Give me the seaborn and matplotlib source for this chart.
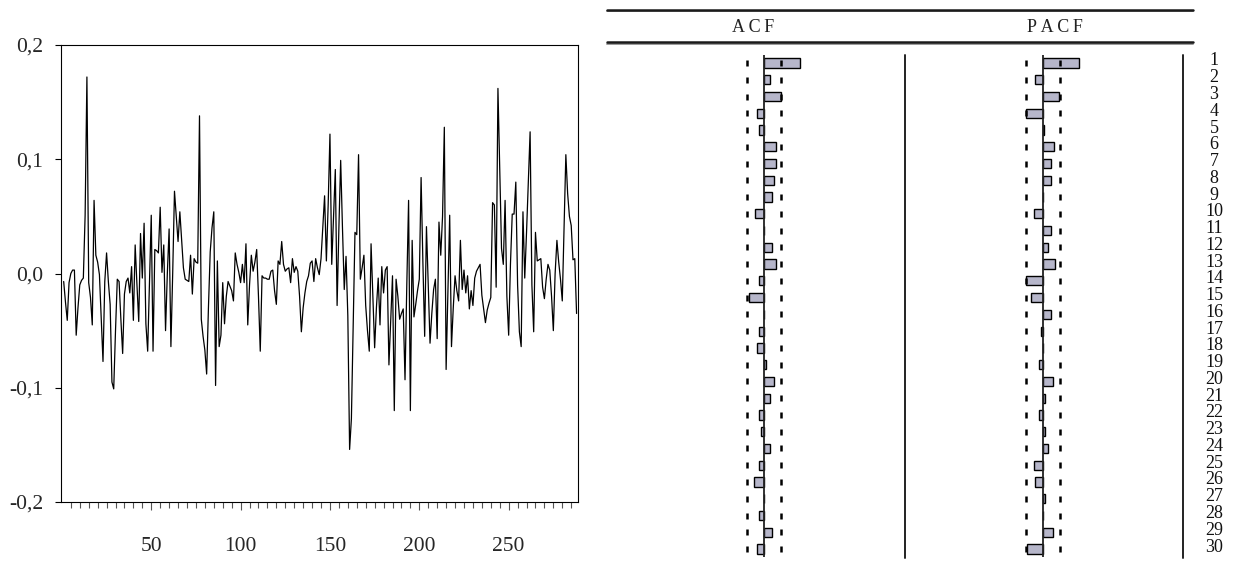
import numpy as np
import pandas as pd
import matplotlib
matplotlib.use("Agg")
import matplotlib.pyplot as plt
import matplotlib.transforms as mtransforms
from matplotlib.lines import Line2D
import seaborn as sns

# ---------------- data ----------------
returns = [
    -0.007, -0.025, -0.041, -0.008, 0.000, 0.003, 0.003, -0.054, -0.030, -0.010,
    -0.006, -0.004, 0.051, 0.172, -0.008, -0.021, -0.045, 0.064, 0.016, 0.010,
    -0.001, -0.040, -0.077, -0.007, 0.018, -0.007, -0.027, -0.095, -0.101, -0.050,
    -0.005, -0.007, -0.040, -0.070, -0.018, -0.007, -0.004, -0.017, 0.006, -0.041,
    0.025, -0.010, -0.042, 0.035, -0.004, 0.044, -0.044, -0.068, -0.010, 0.051,
    -0.068, 0.021, 0.020, 0.018, 0.058, 0.001, 0.025, -0.050, 0.000, 0.039,
    -0.064, 0.000, 0.072, 0.050, 0.028, 0.054, 0.030, 0.005, -0.005, -0.006,
    -0.007, 0.016, -0.018, 0.013, 0.010, 0.009, 0.138, -0.040, -0.055, -0.067,
    -0.088, -0.030, 0.019, 0.040, 0.054, -0.098, 0.011, -0.064, -0.054, -0.008,
    -0.044, -0.020, -0.007, -0.011, -0.015, -0.024, 0.018, 0.008, 0.001, -0.008,
    0.008, -0.008, 0.026, -0.045, -0.010, 0.016, 0.002, 0.010, 0.021, -0.020,
    -0.068, -0.002, -0.004, -0.004, -0.005, -0.005, 0.002, 0.003, -0.015, -0.027,
    0.011, 0.008, 0.028, 0.008, 0.002, 0.004, 0.005, -0.008, 0.013, 0.001,
    0.006, 0.002, -0.020, -0.051, -0.030, -0.017, -0.007, -0.002, 0.009, 0.011,
    -0.007, 0.013, 0.005, -0.001, 0.013, 0.040, 0.068, 0.011, 0.060, 0.122,
    0.008, 0.050, 0.091, -0.028, 0.040, 0.099, 0.040, -0.014, 0.015, -0.037,
    -0.154, -0.127, -0.045, 0.036, 0.034, 0.104, -0.005, 0.005, 0.016, -0.028,
    -0.050, -0.068, 0.026, -0.020, -0.065, -0.030, -0.004, -0.045, 0.006, -0.017,
    0.003, 0.006, -0.080, -0.040, -0.002, -0.120, -0.005, -0.020, -0.040, -0.035,
    -0.031, -0.093, -0.010, 0.064, -0.120, 0.029, -0.038, -0.027, -0.015, -0.005,
    0.084, 0.010, -0.055, 0.041, -0.010, -0.061, -0.035, -0.014, -0.005, -0.057,
    0.045, 0.016, 0.050, 0.128, -0.084, -0.015, 0.051, -0.064, -0.030, -0.002,
    -0.015, -0.024, 0.029, -0.014, 0.003, -0.017, -0.002, -0.031, -0.015, -0.028,
    -0.004, 0.002, 0.005, 0.008, -0.019, -0.031, -0.043, -0.032, -0.026, -0.021,
    0.062, 0.060, -0.012, 0.162, 0.090, 0.022, 0.008, 0.064, -0.020, -0.054,
    0.008, 0.052, 0.052, 0.080, -0.010, -0.051, -0.064, 0.054, -0.004, 0.036,
    0.080, 0.124, -0.010, -0.051, 0.036, 0.011, 0.012, 0.013, -0.012, -0.022,
    -0.005, 0.008, 0.003, -0.020, -0.050, 0.000, 0.029, 0.010, -0.005, -0.024,
    0.040, 0.104, 0.070, 0.050, 0.042, 0.012, 0.013, -0.035,
]
obs = list(range(1, len(returns) + 1))

x_tick_values = [50, 100, 150, 200, 250]
x_tick_labels = ["50", "100", "150", "200", "250"]
y_tick_values = [-0.2, -0.1, 0.0, 0.1, 0.2]
y_tick_labels = ["-0,2", "-0,1", "0,0", "0,1", "0,2"]

lags = list(range(1, 31))
acf_values = [
    0.250, 0.040, 0.120, -0.050, -0.035, 0.086, 0.086, 0.070, 0.056, -0.065,
    0.002, 0.058, 0.082, -0.035, -0.105, 0.002, -0.035, -0.050, 0.015, 0.070,
    0.045, -0.035, -0.018, 0.045, -0.035, -0.070, 0.002, -0.035, 0.058, -0.050,
]
pacf_values = [
    0.254, -0.054, 0.110, -0.120, 0.005, 0.080, 0.058, 0.056, 0.002, -0.065,
    0.056, 0.035, 0.082, -0.117, -0.082, 0.056, -0.016, 0.002, -0.030, 0.070,
    0.014, -0.030, 0.012, 0.035, -0.065, -0.054, 0.012, 0.002, 0.070, -0.112,
]
headers = ["A\u2009C\u2009F", "P\u2009A\u2009C\u2009F"]

# ---------------- style ----------------
sns.set_theme(style="white")
plt.rcParams["font.family"] = ["Liberation Serif", "DejaVu Serif"]

W, H = 1236, 562
fig = plt.figure(figsize=(W / 100, H / 100), dpi=100)
fig.patch.set_facecolor("white")


def box(l, t, r, b):
    return [l / W, 1 - b / H, (r - l) / W, (b - t) / H]


# ---------------- left: time series ----------------
ax = fig.add_axes(box(61, 45, 578, 502))
df = pd.DataFrame({"obs": obs, "ret": returns})
sns.lineplot(data=df, x="obs", y="ret", ax=ax, color="black", linewidth=0.9)
ax.set_xlim(-0.5, 288.8)
ax.set_ylim(-0.2, 0.2)
ax.set_xlabel("")
ax.set_ylabel("")
for s in ax.spines.values():
    s.set_color("black")
    s.set_linewidth(0.8)
ax.set_yticks(y_tick_values)
ax.set_yticklabels(y_tick_labels, fontsize=15.5)
ax.set_xticks(x_tick_values)
ax.set_xticklabels(x_tick_labels, fontsize=15.5)
ax.set_xticks(list(range(5, 290, 5)), minor=True)
ax.tick_params(axis="y", which="major", direction="out", length=4, width=0.8,
               color="black", pad=9, left=True)
ax.tick_params(axis="x", which="major", direction="out", length=6, width=0.8,
               color="#555555", pad=19, bottom=True)
ax.tick_params(axis="x", which="minor", direction="out", length=4, width=0.8,
               color="#555555", bottom=True)
ax.set_facecolor("white")

# ---------------- right: correlogram ----------------
n = len(returns)
bound = 1.96 / np.sqrt(n)
bar_color = "#b6b6ca"


def correlogram(center_x, values):
    a = fig.add_axes(box(center_x - 71.5, 54.6, center_x + 71.5, 557.4))
    cdf = pd.DataFrame({"lag": lags, "val": values})
    sns.barplot(data=cdf, x="val", y="lag", orient="h", native_scale=True,
                width=0.55, color=bar_color, saturation=1, edgecolor="black",
                linewidth=1.0, errorbar=None, ax=a)
    a.axvline(0, color="#222222", linewidth=1.3)
    a.plot([bound] * len(lags), lags, linestyle="none", marker="|",
           markersize=3.8, markeredgewidth=1.8, color="black")
    a.plot([-bound] * len(lags), lags, linestyle="none", marker="|",
           markersize=3.8, markeredgewidth=1.8, color="black")
    a.set_xlim(-0.5, 0.5)
    a.set_ylim(30.5, 0.5)
    a.axis("off")
    return a


ax_acf = correlogram(764, acf_values)
ax_pacf = correlogram(1043, pacf_values)

# lag numbers
tr = mtransforms.blended_transform_factory(fig.transFigure, ax_pacf.transData)
for lag in lags:
    ax_pacf.text(1214 / W, lag - 0.12, str(lag), transform=tr, ha="center",
                 va="center", fontsize=13, color="#111111", clip_on=False)

# table rules
def hline(y, x0, x1, color, lw):
    fig.add_artist(Line2D([x0 / W, x1 / W], [1 - y / H, 1 - y / H],
                          transform=fig.transFigure, color=color, linewidth=lw))


def vline(x, y0, y1, color, lw):
    fig.add_artist(Line2D([x / W, x / W], [1 - y0 / H, 1 - y1 / H],
                          transform=fig.transFigure, color=color, linewidth=lw))


for yy in (9.5, 42.0):
    hline(yy + 1.7, 607, 1193, "#9a9a9a", 1.4)
    hline(yy, 607, 1193, "#1a1a1a", 1.8)

vline(905, 55, 558, "#222222", 1.4)
vline(1183, 55, 558, "#222222", 1.4)

fig.text(753 / W, 1 - 27 / H, headers[0], ha="center", va="center",
         fontsize=13, color="#222222")
fig.text(1055 / W, 1 - 27 / H, headers[1], ha="center", va="center",
         fontsize=13, color="#222222")

fig.savefig("out.png", dpi=100, facecolor="white")
